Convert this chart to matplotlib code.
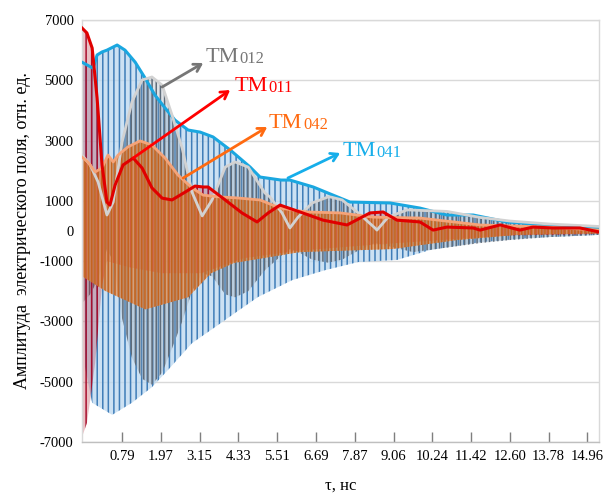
import matplotlib
matplotlib.use("Agg")
import matplotlib.pyplot as plt

plt.rcParams['font.family'] = ['Liberation Serif', 'DejaVu Serif']
plt.rcParams['hatch.linewidth'] = 1.1

# TM041 - blue: upper envelope and lower (negative) envelope of the oscillation
t_041_up = [-0.43, -0.09, 0.03, 0.18, 0.33, 0.64, 0.88, 1.19, 1.49, 1.79, 2.10, 2.40, 2.80,
            3.17, 3.56, 4.08, 4.69, 4.99, 5.63, 5.90, 6.61, 7.73, 8.95, 9.86, 10.68, 11.48,
            12.51, 13.73, 15.31]
v_041_up = [5600, 5400, 5840, 5940, 6000, 6170, 6000, 5600, 5075, 4510, 4080, 3680, 3350,
            3280, 3120, 2690, 2120, 1790, 1690, 1690, 1460, 960, 930, 760, 530, 530,
            300, 200, 100]
t_041_dn = [-0.34, -0.12, 0.49, 1.09, 1.70, 2.19, 2.92, 3.62, 4.23, 4.93, 5.97, 6.97, 7.98,
            9.16, 10.17, 11.69, 13.21, 15.31]
v_041_dn = [-4500, -5700, -6100, -5700, -5180, -4610, -3720, -3190, -2720, -2190, -1630, -1300,
            -1030, -960, -630, -370, -230, -130]

# TM012 - gray
t_012_up = [-0.43, -0.18, 0.06, 0.33, 0.52, 0.79, 1.09, 1.40, 1.70, 2.01, 2.31, 2.62, 2.92,
            3.23, 3.53, 3.93, 4.23, 4.63, 5.14, 5.29, 5.66, 5.90, 6.15, 6.58, 7.06, 7.13,
            7.49, 7.98, 8.49, 8.55, 8.89, 9.47, 10.68, 11.69, 12.60, 13.82, 15.31]
v_012_up = [2520, 2190, 1625, 530, 960, 2950, 4280, 5010, 5110, 4840, 3850, 2750, 1290,
            500, 1030, 2120, 2290, 2120, 1260, 1130, 600, 100, 460, 930, 1130, 1130,
            1030, 600, 100, 30, 460, 700, 650, 450, 330, 230, 150]
t_012_dn = [-0.43, -0.18, 0.06, 0.33, 0.52, 0.79, 1.09, 1.40, 1.70, 2.01, 2.31, 2.62, 2.92,
            3.23, 3.53, 3.93, 4.23, 4.63, 5.14, 5.66, 5.90, 6.15, 6.58, 7.06, 7.49, 7.98,
            8.49, 8.89, 9.65, 10.68, 11.69, 12.60, 13.82, 15.31]
v_012_dn = [-2400, -2100, -1600, -600, -1000, -2900, -4200, -4900, -5100, -4700, -3900, -3000,
            -2000, -1400, -1500, -2100, -2200, -2000, -1300, -800, -600, -700, -950, -1050,
            -950, -650, -400, -500, -700, -550, -400, -300, -200, -130]

# TM011 - red
t_011_up = [-0.43, -0.28, -0.12, 0.03, 0.18, 0.33, 0.42, 0.58, 0.82, 1.13, 1.40, 1.70, 2.01,
            2.31, 2.71, 3.01, 3.26, 3.41, 3.93, 4.44, 4.90, 5.24, 5.60, 6.21, 6.91, 7.64,
            8.34, 8.74, 9.16, 9.86, 10.26, 10.68, 11.48, 11.69, 12.30, 12.90, 13.30, 13.91,
            14.73, 15.31]
v_011_up = [6735, 6570, 6070, 4410, 2190, 960, 860, 1530, 2190, 2420, 2090, 1430, 1090,
            1030, 1290, 1490, 1460, 1460, 1030, 600, 300, 600, 860, 630, 360, 200,
            600, 630, 360, 300, 30, 130, 100, 30, 200, 30, 130, 100,
            100, -30]
t_011_dn = [-0.43, -0.28, -0.18, -0.03, 0.06, 0.18, 0.33, 1.0, 2.0, 3.2, 4.5, 6.2, 8.5,
            10.5, 12.5, 15.31]
v_011_dn = [-6840, -6370, -5600, -4380, -3290, -1800, -1000, -1200, -1400, -1400, -900, -650,
            -450, -300, -150, -100]

# TM042 - orange
t_042_up = [-0.43, -0.25, -0.03, 0.18, 0.36, 0.52, 0.67, 0.97, 1.34, 1.70, 2.10, 2.49, 2.92,
            3.26, 3.77, 4.26, 4.99, 5.60, 6.42, 7.43, 8.43, 9.86, 11.69, 13.73, 15.31]
v_042_up = [2450, 2290, 1960, 2090, 2520, 2290, 2520, 2790, 2990, 2850, 2420, 1860, 1430,
            1190, 1130, 1100, 1030, 760, 630, 600, 460, 430, 200, 130, 30]
t_042_dn = [-0.43, 0.30, 1.50, 2.80, 3.50, 4.20, 6.20, 9.00, 11.00, 12.80, 15.31]
v_042_dn = [-1500, -2000, -2600, -2200, -1400, -1060, -700, -600, -300, -130, -80]

x_ticks = [0.79, 1.97, 3.15, 4.33, 5.51, 6.69, 7.87, 9.06, 10.24, 11.42, 12.60, 13.78, 14.96]
x_tick_labels = ['0.79', '1.97', '3.15', '4.33', '5.51', '6.69', '7.87', '9.06', '10.24',
                 '11.42', '12.60', '13.78', '14.96']
y_grid = [-7000, -5000, -3000, -1000, 1000, 3000, 5000, 7000]
y_ticks = [-7000, -5000, -3000, -1000, 0, 1000, 3000, 5000, 7000]

# labels: (sub, colour, text position, arrow tail, arrow head)
labels = [
    ('012', '#767676', (3.33, 5770), (2.01, 4777), (3.26, 5573)),
    ('011', '#FF0000', (4.20, 4810), (1.13, 2421), (4.08, 4677)),
    ('042', '#FF6A10', (5.26, 3560), (2.65, 1758), (5.21, 3450)),
    ('041', '#16AEEA', (7.50, 2630), (5.84, 1758), (7.43, 2587)),
]

fig = plt.figure(figsize=(6.06, 4.94), dpi=100)
ax = fig.add_axes([0.1353, 0.1053, 0.8531, 0.8542])


def band(t_up, v_up, t_dn, v_dn, tint, tint_alpha, stripe, hatch, z):
    xs = list(t_up) + list(t_dn[::-1])
    ys = list(v_up) + list(v_dn[::-1])
    ax.fill(xs, ys, facecolor=tint, alpha=tint_alpha, edgecolor='none', lw=0, zorder=z)
    ax.fill(xs, ys, facecolor='none', edgecolor=stripe, hatch=hatch, lw=0, zorder=z + 0.05)


band(t_041_up, v_041_up, t_041_dn, v_041_dn, '#BBD8F0', 0.75, '#3F7DB8', '|||', 1.0)
band(t_012_up, v_012_up, t_012_dn, v_012_dn, '#8E9BAA', 0.28, '#5F6C7A', '||||', 1.2)
band(t_011_up, v_011_up, t_011_dn, v_011_dn, '#B8303E', 0.30, '#A8102E', '|||', 1.4)
band(t_042_up, v_042_up, t_042_dn, v_042_dn, '#E28848', 0.65, '#C4641F', '|||||', 1.6)

ax.plot(t_041_up, v_041_up, color='#1AA7E0', lw=2.2, zorder=3)
ax.plot(t_012_up, v_012_up, color='#D2D2D2', lw=2.0, zorder=3.1)
ax.plot(t_042_up, v_042_up, color='#F5A378', lw=2.0, zorder=3.2)
ax.plot(t_011_up, v_011_up, color='#E00000', lw=2.2, zorder=3.3)

for g in y_grid:
    ax.axhline(g, color='#D9D9D9', lw=1.0, zorder=0.5)

for sub, col, pos, tail, head in labels:
    ax.annotate('', xy=head, xytext=tail,
                arrowprops=dict(arrowstyle='->,head_length=0.5,head_width=0.3', color=col,
                                lw=2.0, shrinkA=0, shrinkB=0), zorder=5)
    main = ax.text(pos[0], pos[1], 'TM', color=col, fontsize=16, va='center', ha='left',
                   zorder=5)
    ax.annotate(sub, xy=(1, 0), xycoords=main, xytext=(0.5, 0), textcoords='offset points',
                color=col, fontsize=12, va='bottom', ha='left', zorder=5)

ax.set_xlim(-0.43, 15.31)
ax.set_ylim(-7000, 7000)
ax.set_xticks(x_ticks)
ax.set_xticklabels(x_tick_labels)
ax.set_yticks(y_ticks)
ax.set_yticklabels([str(v) for v in y_ticks])
ax.tick_params(axis='x', direction='in', length=7, width=1, color='#7F7F7F', pad=6,
               labelsize=10.5)
ax.tick_params(axis='y', length=0, pad=6, labelsize=10.5)
for s in ax.spines.values():
    s.set_color('#D9D9D9')
    s.set_linewidth(1.0)
ax.spines['bottom'].set_color('#BFBFBF')

ax.set_xlabel('τ, нс', fontsize=12, labelpad=10)
ax.set_ylabel('Амплитуда  электрического поля, отн. ед.', fontsize=13, labelpad=6)

fig.savefig('out.png', dpi=100)
